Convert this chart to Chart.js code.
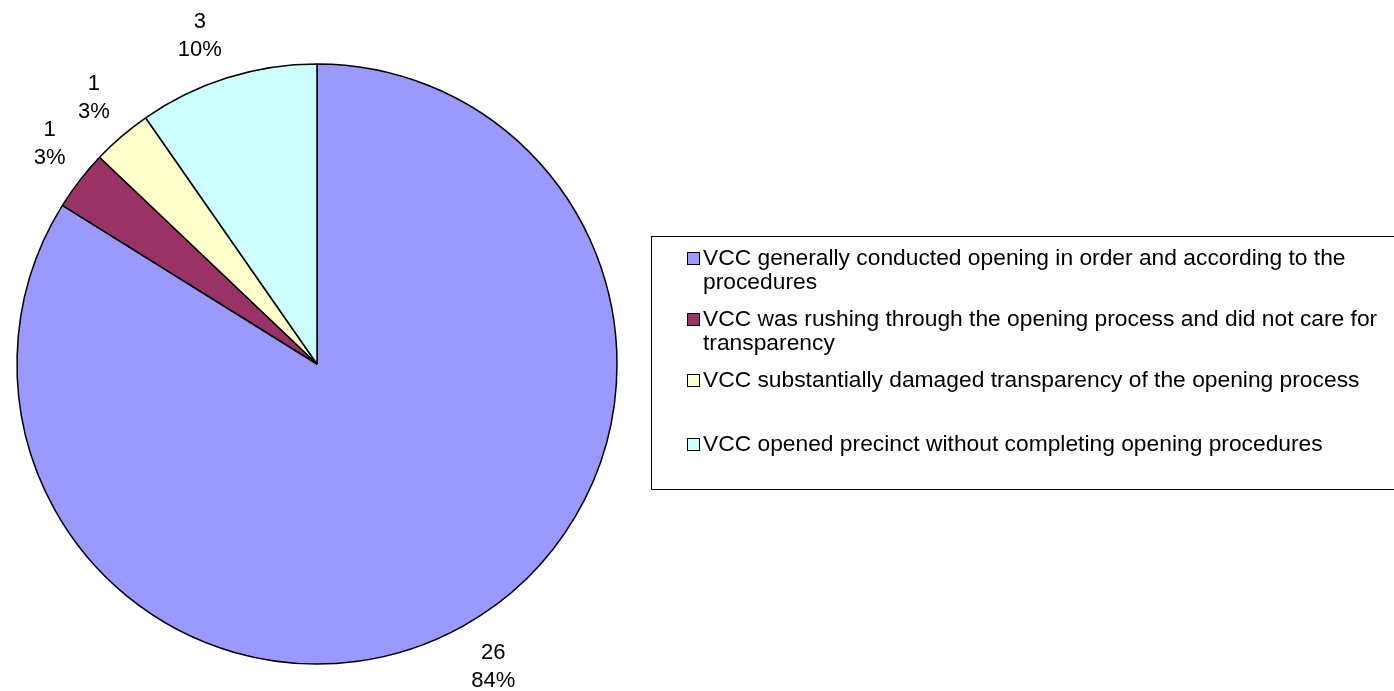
<!DOCTYPE html>
<html>
<head>
	<meta charset="utf-8">
	<title>VCC opening</title>
	<script src="https://cdn.jsdelivr.net/npm/chart.js"></script>
	<style>
		html, body { margin: 0; padding: 0; background: #fff; }
		#wrap { width: 1394px; height: 691px; position: relative; }
	</style>
</head>
<body>
<div id="wrap">
	<canvas id="pie"></canvas>
</div>
<script>
	// datos del grafico
	const categorias = [
		'VCC generally conducted opening in order and according to the procedures',
		'VCC was rushing through the opening process and did not care for transparency',
		'VCC substantially damaged transparency of the opening process',
		'VCC opened precinct without completing opening procedures'
	];
	const valores = [26, 1, 1, 3];
	const porcentajes = ['84%', '3%', '3%', '10%'];
	const colores = ['#9999FF', '#993366', '#FFFFCC', '#CCFFFF'];

	const fuenteEtiq = '22px "Liberation Sans", Arial, sans-serif';
	const fuenteLey = '22.8px "Liberation Sans", Arial, sans-serif';

	// etiquetas afuera de cada porcion (la esquina mas cercana toca el circulo)
	const etiquetas = {
		id: 'etiquetas',
		afterDatasetsDraw(chart) {
			const ctx = chart.ctx;
			const arcs = chart.getDatasetMeta(0).data;
			ctx.save();
			ctx.font = fuenteEtiq;
			ctx.fillStyle = '#000';
			ctx.textAlign = 'center';
			ctx.textBaseline = 'middle';
			arcs.forEach((arc, i) => {
				const mid = (arc.startAngle + arc.endAngle) / 2;
				const ux = Math.cos(mid), uy = Math.sin(mid);
				const r = arc.outerRadius + 18;
				const hw = Math.max(ctx.measureText(String(valores[i])).width, ctx.measureText(porcentajes[i]).width) / 2;
				const hh = 25;
				const x = arc.x + ux * r + Math.sign(ux) * hw;
				const y = arc.y + uy * r + Math.sign(uy) * hh;
				ctx.fillText(String(valores[i]), x, y - 14);
				ctx.fillText(porcentajes[i], x, y + 14);
			});
			ctx.restore();
		}
	};

	// leyenda con recuadro, como en excel
	const leyenda = {
		id: 'leyenda',
		afterDraw(chart) {
			const ctx = chart.ctx;
			ctx.save();
			ctx.strokeStyle = '#000';
			ctx.lineWidth = 1;
			ctx.strokeRect(651.5, 236.5, 800, 253);
			ctx.font = fuenteLey;
			ctx.textBaseline = 'middle';
			ctx.textAlign = 'left';
			const filas = [259, 320, 381, 445];
			categorias.forEach((txt, i) => {
				const y0 = filas[i];
				ctx.fillStyle = colores[i];
				ctx.fillRect(687.5, y0 - 6.5, 12, 12);
				ctx.strokeStyle = '#000';
				ctx.strokeRect(687.5, y0 - 6.5, 12, 12);
				// cortar el texto en lineas
				const palabras = txt.split(' ');
				let linea = '';
				let y = y0;
				ctx.fillStyle = '#000';
				palabras.forEach(p => {
					const prueba = linea ? linea + ' ' + p : p;
					if (ctx.measureText(prueba).width > 690 && linea) {
						ctx.fillText(linea, 703, y);
						linea = p;
						y += 24;
					} else {
						linea = prueba;
					}
				});
				ctx.fillText(linea, 703, y);
			});
			ctx.restore();
		}
	};

	new Chart(document.getElementById('pie'), {
		type: 'pie',
		data: {
			labels: categorias,
			datasets: [{
				data: valores,
				backgroundColor: colores,
				borderColor: '#000',
				borderWidth: 1.5
			}]
		},
		options: {
			responsive: true,
			maintainAspectRatio: false,
			animation: false,
			radius: 300,
			layout: { padding: { left: 0, right: 760, top: 37, bottom: 0 } },
			plugins: {
				legend: { display: false },
				tooltip: { enabled: false }
			}
		},
		plugins: [etiquetas, leyenda]
	});
</script>
</body>
</html>
